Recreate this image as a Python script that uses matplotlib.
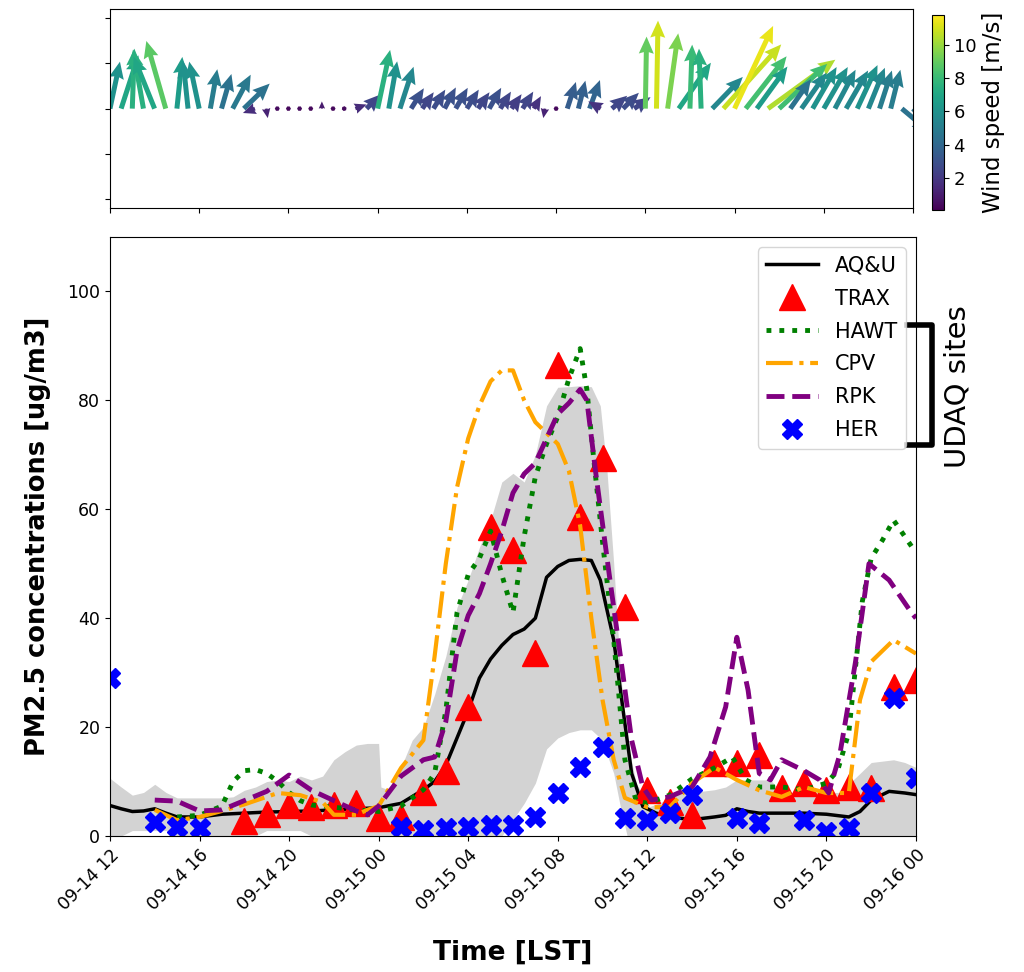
import numpy as np
import pandas as pd
import matplotlib
matplotlib.use('Agg')
import matplotlib.pyplot as plt
import matplotlib.dates as mdates

t0 = pd.Timestamp('2019-09-14 12:00')

def to_time(h):
    return t0 + pd.to_timedelta(np.asarray(h, dtype=float), unit='h')

# wind (every 30 min), speed in m/s, direction the arrow points (deg, ccw from east)
wind_hours = np.arange(0, 36.5, 0.5)
wind_speed = [6.0, 7.0, 7.5, 7.5, 7.0, 8.8, 6.5, 6.0, 6.0, 5.0, 4.5, 4.8, 4.5,
              1.6, 1.2, 0.4, 0.3, 0.4, 0.3, 0.9, 0.3, 0.4, 1.5, 2.5,
              7.5, 6.0, 5.5, 3.0, 2.5, 2.8, 3.0, 3.0, 2.8, 2.5, 3.0, 2.5,
              2.2, 2.5, 1.8, 1.2, 0.3, 3.5, 3.6, 3.8, 1.8, 2.5, 2.8, 2.5,
              9.0, 11.0, 9.5, 7.0, 8.0, 7.5, 5.5, 10.8, 11.4, 8.3, 6.5, 10.4,
              8.2, 4.5, 5.5, 6.0, 6.0, 5.5, 5.5, 6.0, 5.5, 5.0, 5.0, 4.5, 4.5]
wind_dir = [78, 72, 88, 100, 112, 106, 84, 96, 102, 80, 74, 62, 44,
            200, 280, 0, 0, 0, 0, 90, 300, 20, 20, 45,
            78, 80, 72, 58, 55, 58, 62, 60, 58, 55, 60, 58,
            55, 58, 60, 260, 0, 72, 76, 70, 150, 40, 45, 35,
            89, 89, 82, 55, 88, 92, 46, 48, 65, 52, 54, 36,
            43, 55, 55, 60, 60, 62, 60, 65, 68, 72, 76, -40, -45]

# PM2.5
aqu_hours = [0, 0.5, 1, 1.5, 2, 2.5, 3, 4, 5, 6, 7, 8, 9, 10, 11, 12, 13, 14, 14.5,
             15, 15.5, 16, 16.5, 17, 17.5, 18, 18.5, 19, 19.5, 20, 20.5, 21, 21.5,
             21.9, 22.5, 22.9, 23.3, 23.8, 24.4, 25, 26, 27, 27.5, 28, 28.5, 29,
             30, 31, 32, 33, 33.5, 34, 34.8, 35.5, 36]
aqu_med = [5.6, 5.0, 4.5, 4.6, 5.0, 4.2, 3.5, 3.5, 4.0, 4.2, 4.4, 4.5, 4.6, 4.8, 5.0,
           5.2, 6.0, 8.5, 10, 13, 18, 23, 29, 32.5, 35, 37, 38, 40, 47.5, 49.5,
           50.6, 50.8, 50.6, 47, 36, 23.7, 11.5, 5.4, 4.2, 3.5, 3.0, 3.5, 3.8, 5.0,
           4.5, 4.2, 4.2, 4.2, 4.0, 3.5, 4.5, 6.6, 8.2, 7.9, 7.6]

band_hours = [0, 0.5, 1, 1.5, 2, 2.5, 3, 4, 5, 5.5, 6, 6.5, 7, 7.5, 8, 8.5, 9, 9.5,
              10, 10.5, 11, 11.5, 12, 12.1, 12.5, 13, 13.5, 14, 14.5, 15, 15.5, 16,
              16.5, 17, 17.5, 18, 18.5, 19, 19.5, 20, 20.5, 21, 21.5, 21.9, 22.2,
              22.5, 22.8, 23.1, 23.5, 24.1, 24.5, 25, 25.5, 26, 27, 27.5, 28, 29,
              29.5, 30, 31, 32, 32.6, 33.5, 34, 35, 35.5, 36]
band_high = [10.6, 9, 7.5, 8, 9.5, 8, 7, 7, 7, 7.2, 8.4, 9, 10, 10.3, 10, 11, 10.3, 11,
             14, 15.5, 16.7, 17, 17, 9, 8.4, 12.6, 17.6, 20, 26, 33, 42, 47, 53, 58,
             65, 66.6, 65, 70, 79, 82.4, 82.5, 82.7, 82.5, 79, 67, 50, 30, 17.6, 9.7,
             5.4, 6, 7, 7.9, 8, 8.5, 9, 10.3, 10.3, 10.3, 8, 8, 8, 8, 11.5, 13.5, 14,
             13.5, 12.6]
band_low = [0, 0, 1, 1, 1, 1, 0, 0, 0, 0, 0, 0, 1, 1, 1, 1, 0, 0,
            0, 0, 0, 0, 0, 0, 0, 0, 0, 0, 0, 0, 0, 0,
            0, 0, 0, 3, 6, 9.7, 16, 18, 19, 19.5, 19.5, 18, 15,
            11.5, 5.3, 0, 0, 0, 0, 0, 0, 0, 0, 0, 0, 0,
            0, 0, 0, 0, 0, 0, 0, 0, 0, 0]

trax_hours = np.arange(6, 37)
trax = [2.8, 4.0, 5.7, 5.3, 5.7, 6.0, 3.3, 3.5, 8.0, 12.0, 23.7, 56.7, 52.5, 33.6,
        86.4, 58.5, 69.4, 42.0, 8.4, 6.2, 3.9, 13.4, 13.4, 14.9, 8.8, 9.7, 8.4,
        9.0, 8.8, 27.3, 28.6]

hawt_hours = [3, 4, 5, 5.5, 6, 6.5, 7, 7.5, 8, 8.5, 9, 10, 11, 12, 13, 14, 14.5, 15,
              15.5, 16, 16.5, 17, 17.5, 18, 18.5, 19, 19.5, 20, 20.5, 21, 21.3, 21.6,
              22, 22.5, 23, 23.5, 24, 25, 26, 27, 27.8, 28.4, 29, 30, 31, 32, 32.5,
              33, 33.3, 33.6, 34, 34.5, 35, 35.5, 36]
hawt = [3.5, 3.8, 5.5, 10, 12, 12.2, 11.5, 10, 8, 6.5, 5.7, 5.3, 4.8, 4.5, 5.5, 8.5,
        11.5, 23, 41, 48, 51, 56, 48, 41, 55, 66, 72, 77, 84, 89.5, 82, 69.5, 54,
        36, 14, 6.5, 6, 7.5, 10.5, 12.5, 14.5, 10.3, 9, 9, 8.5, 9.7, 12, 19, 31, 43,
        51, 54.3, 58, 55, 52]

cpv_hours = [2, 3, 4, 5, 6, 7, 7.5, 8.5, 9.5, 10, 11, 11.5, 12, 13, 14, 14.5, 15,
             15.5, 16, 16.5, 17, 17.5, 18, 18.5, 19, 19.5, 20, 20.5, 21, 21.5, 22,
             22.5, 23, 24, 25, 26, 27, 28, 29, 30, 31, 32, 33, 33.5, 34, 35, 36]
cpv = [4.8, 2.9, 3.5, 4.6, 5.8, 7.2, 7.9, 7.5, 6.2, 3.9, 3.9, 4.8, 5.5, 12.5, 17.6,
       33, 50, 64, 73, 79, 83.5, 85.5, 85.5, 80, 76, 74, 72, 67, 57, 40, 25, 14, 7,
       5.3, 5.3, 9.7, 12.6, 10.3, 8.4, 7.2, 9, 7.9, 7.9, 25, 32, 36, 33.5]

rpk_hours = [2, 3, 4, 5, 6, 7, 8, 9, 10, 11, 11.5, 12, 13, 14, 14.5, 15, 15.5, 16,
             16.5, 17, 17.5, 18, 18.5, 19, 19.5, 20, 20.5, 21, 21.3, 21.7, 22.3,
             22.9, 23.3, 23.8, 24.2, 25, 26, 26.8, 27.5, 28, 28.5, 29, 29.5, 30, 31,
             31.7, 32.1, 32.6, 33.3, 33.9, 34.8, 35.8, 36]
rpk = [6.6, 6.4, 4.6, 4.8, 6.5, 8.2, 11.2, 8.4, 6.5, 4.6, 3.9, 5.5, 11, 14, 14.5, 21,
       34, 40.5, 44.5, 50, 56, 63, 66.5, 68.5, 73, 77.5, 79.5, 82, 80, 66.6, 48, 30,
       17.6, 9, 6.6, 7.2, 9, 14.5, 23.7, 36.5, 26.8, 11.5, 10.3, 14, 12, 10.3, 7.9,
       15, 32, 50, 47, 41, 40]

her_hours = [0, 2, 3, 4, 13, 14, 15, 16, 17, 18, 19, 20, 21, 22, 23, 24, 25, 26, 28,
             29, 31, 32, 33, 34, 35, 36]
her = [29, 2.6, 1.7, 1.5, 1.7, 1.1, 1.5, 1.7, 2.0, 2.0, 3.5, 7.9, 12.6, 16.3, 3.3, 3.0,
       4.2, 7.5, 3.3, 2.4, 3.0, 0.8, 1.4, 7.9, 25.3, 10.6]

fig = plt.figure(figsize=(10.24, 9.72), dpi=100)
ax1 = fig.add_axes([0.1074, 0.786, 0.7842, 0.2045])
cax = fig.add_axes([0.910, 0.784, 0.0117, 0.2006])
ax = fig.add_axes([0.1074, 0.1399, 0.7871, 0.6163])

# wind quiver
wt = mdates.date2num(to_time(wind_hours))
ws = np.array(wind_speed)
wd = np.deg2rad(wind_dir)
u = ws * np.cos(wd)
v = ws * np.sin(wd)
q = ax1.quiver(wt, np.zeros_like(wt), u, v, ws, cmap='viridis', pivot='tail',
               angles='uv', scale_units='dots', scale=0.125, units='dots',
               width=5, headwidth=3, headlength=3.4, headaxislength=3.1)
q.set_clim(0.07, 11.8)
ax1.set_ylim(-1.1, 1.1)
ax1.set_yticks([-1, -0.5, 0, 0.5, 1])
ax1.set_yticklabels([])
ax1.set_xlim(t0, t0 + pd.Timedelta(hours=36))
ax1.xaxis.set_major_locator(mdates.HourLocator(byhour=range(0, 24, 4)))
ax1.tick_params(labelbottom=False)

cb = fig.colorbar(q, cax=cax)
cb.set_label('Wind speed [m/s]', fontsize=16.5)
cb.ax.tick_params(labelsize=13)
cb.set_ticks([2, 4, 6, 8, 10])

# PM2.5 panel
ax.fill_between(to_time(band_hours), band_low, band_high, color='lightgray', lw=0)
ax.plot(to_time(aqu_hours), aqu_med, color='black', lw=2.5, label='AQ&U')
ax.plot(to_time(trax_hours), trax, ls='none', marker='^', color='red', ms=19,
        label='TRAX')
ax.plot(to_time(hawt_hours), hawt, color='green', ls=':', lw=3.5, label='HAWT')
ax.plot(to_time(cpv_hours), cpv, color='orange', ls='-.', lw=3, label='CPV')
ax.plot(to_time(rpk_hours), rpk, color='purple', ls='--', lw=3.5, label='RPK')
ax.plot(to_time(her_hours), her, ls='none', marker='X', color='blue', ms=15,
        label='HER')

ax.set_xlim(t0, t0 + pd.Timedelta(hours=36))
ax.set_ylim(0, 110)
ax.set_yticks([0, 20, 40, 60, 80, 100])
ax.xaxis.set_major_locator(mdates.HourLocator(byhour=range(0, 24, 4)))
ax.xaxis.set_major_formatter(mdates.DateFormatter('%m-%d %H'))
ax.tick_params(labelsize=12.5)
for lab in ax.get_xticklabels():
    lab.set_rotation(45)
    lab.set_rotation_mode('anchor')
    lab.set_ha('right')
    lab.set_va('top')
ax.set_xlabel('Time [LST]', fontsize=19, fontweight='bold', labelpad=19)
ax.set_ylabel('PM2.5 concentrations [ug/m3]', fontsize=18.5, fontweight='bold',
              labelpad=12)
ax.legend(loc='upper right', fontsize=15, handlelength=2.5, labelspacing=0.62)

# bracket for UDAQ sites
ax.plot([0.989, 1.02, 1.02, 0.989], [0.853, 0.853, 0.653, 0.653], color='black',
        lw=4, transform=ax.transAxes, clip_on=False, solid_joinstyle='round')
ax.text(1.052, 0.751, 'UDAQ sites', transform=ax.transAxes, rotation=90,
        fontsize=21, ha='center', va='center')

fig.savefig('out.png', dpi=100)
